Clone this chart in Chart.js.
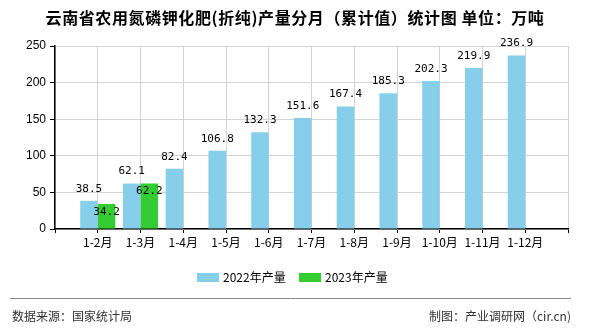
<!DOCTYPE html>
<html>
<head>
<meta charset="utf-8">
<script src="https://cdn.jsdelivr.net/npm/chart.js@4/dist/chart.umd.min.js"></script>
<style>
  html, body { margin: 0; padding: 0; background: #fff; }
  #wrap { width: 590px; height: 330px; }
</style>
</head>
<body>
<div id="wrap"><canvas id="chart" width="590" height="330"></canvas></div>
<script>
// 数据 (万吨)
const categories = ['', '1-2月', '1-3月', '1-4月', '1-5月', '1-6月', '1-7月', '1-8月', '1-9月', '1-10月', '1-11月', '1-12月', ''];
const production2022 = [null, 38.5, 62.1, 82.4, 106.8, 132.3, 151.6, 167.4, 185.3, 202.3, 219.9, 236.9, null];
const production2023 = [null, 34.2, 62.2, null, null, null, null, null, null, null, null, null, null];
const seriesNames = ['2022年产量', '2023年产量'];
const seriesColors = ['#87CEEB', '#33CC33'];
const yTicks = [0, 50, 100, 150, 200, 250];

const titleText = '云南省农用氮磷钾化肥(折纯)产量分月（累计值）统计图 单位：万吨';
const sourceText = '数据来源：国家统计局';
const makerText = '制图：产业调研网（cir.cn)';

// 柱顶数值
const valueLabels = {
    id: 'valueLabels',
    afterDatasetsDraw(chart) {
        const ctx = chart.ctx;
        ctx.save();
        ctx.font = '11px "DejaVu Sans Mono", monospace';
        ctx.fillStyle = '#000';
        ctx.textAlign = 'center';
        ctx.textBaseline = 'middle';
        chart.data.datasets.forEach((ds, i) => {
            const meta = chart.getDatasetMeta(i);
            meta.data.forEach((bar, j) => {
                const v = ds.data[j];
                if (v == null) return;
                // 2022在柱顶上方, 2023压在柱内
                const dy = i === 0 ? -12 : 8;
                ctx.fillText(v.toFixed(1), bar.x, bar.y + dy);
            });
        });
        ctx.restore();
    }
};

// 标题、图例、页脚
const decor = {
    id: 'decor',
    afterDraw(chart) {
        const ctx = chart.ctx;
        ctx.save();
        ctx.fillStyle = '#000';
        ctx.font = 'bold 16px "Noto Sans CJK SC", sans-serif';
        ctx.letterSpacing = '0.6px';
        ctx.textAlign = 'center';
        ctx.textBaseline = 'middle';
        ctx.fillText(titleText, 295, 18);
        ctx.letterSpacing = '0px';

        // 图例
        ctx.font = '12px "Noto Sans CJK SC", sans-serif';
        ctx.textAlign = 'left';
        let x = 197;
        seriesNames.forEach((name, i) => {
            ctx.fillStyle = seriesColors[i];
            ctx.fillRect(x, 273, 22, 9);
            ctx.fillStyle = '#000';
            ctx.fillText(name, x + 26, 277.5);
            x += 102;
        });

        // 页脚
        ctx.strokeStyle = '#888';
        ctx.lineWidth = 1;
        ctx.beginPath();
        ctx.moveTo(10, 298.5);
        ctx.lineTo(571, 298.5);
        ctx.stroke();
        ctx.fillStyle = '#333';
        ctx.fillText(sourceText, 12, 316);
        ctx.textAlign = 'right';
        ctx.fillText(makerText, 571, 316);
        ctx.restore();
    }
};

new Chart(document.getElementById('chart').getContext('2d'), {
    type: 'bar',
    data: {
        labels: categories,
        datasets: [
            {
                label: seriesNames[0],
                data: production2022,
                backgroundColor: seriesColors[0],
                categoryPercentage: 0.82,
                barPercentage: 1
            },
            {
                label: seriesNames[1],
                data: production2023,
                backgroundColor: seriesColors[1],
                categoryPercentage: 0.82,
                barPercentage: 1
            }
        ]
    },
    options: {
        responsive: false,
        animation: false,
        layout: { padding: { top: 46, right: 22, bottom: 71, left: 0 } },
        plugins: {
            legend: { display: false },
            title: { display: false },
            tooltip: { enabled: false }
        },
        scales: {
            x: {
                offset: false,
                grid: { offset: false, color: '#d3d3d3', tickColor: '#000', tickLength: 4, drawTicks: true },
                border: { color: '#000', width: 1.5 },
                ticks: {
                    color: '#000',
                    font: { size: 12, family: '"Noto Sans CJK SC", sans-serif' },
                    padding: 2,
                    autoSkip: false,
                    maxRotation: 0
                },
                afterFit(scale) { scale.height = 30; }
            },
            y: {
                min: 0,
                max: 250,
                afterBuildTicks(scale) { scale.ticks = yTicks.map(v => ({ value: v })); },
                grid: { color: '#d3d3d3', tickColor: '#000', tickLength: 5 },
                border: { color: '#000', width: 1.5 },
                ticks: {
                    color: '#000',
                    font: { size: 12, family: '"Liberation Sans", sans-serif' },
                    padding: 4
                },
                afterFit(scale) { scale.width = 55; }
            }
        }
    },
    plugins: [valueLabels, decor]
});
</script>
</body>
</html>
